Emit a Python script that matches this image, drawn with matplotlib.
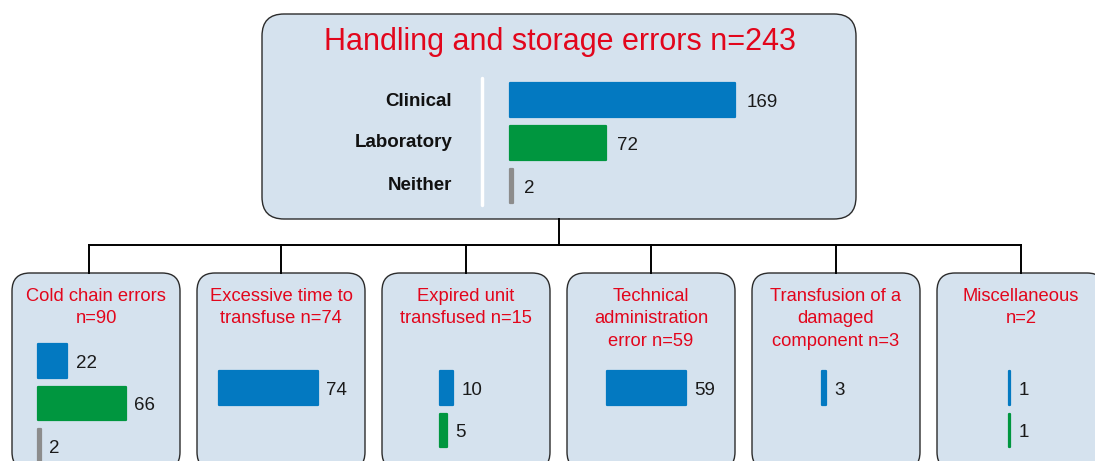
import matplotlib.pyplot as plt
from matplotlib.patches import FancyBboxPatch

plt.rcParams['font.family'] = ['Liberation Sans', 'DejaVu Sans']

# data
main_title = 'Handling and storage errors n=243'
main_cats = ['Clinical', 'Laboratory', 'Neither']
main_vals = [169, 72, 2]

sub_titles = ['Cold chain errors\nn=90', 'Excessive time to\ntransfuse n=74',
              'Expired unit\ntransfused n=15', 'Technical\nadministration\nerror n=59',
              'Transfusion of a\ndamaged\ncomponent n=3', 'Miscellaneous\nn=2']
sub_vals = [[22, 66, 2], [74], [10, 5], [59], [3], [1, 1]]
sub_kinds = [['Clinical', 'Laboratory', 'Neither'], ['Clinical'], ['Clinical', 'Laboratory'],
             ['Clinical'], ['Clinical'], ['Clinical', 'Laboratory']]

colors = {'Clinical': '#0379C1', 'Laboratory': '#00963F', 'Neither': '#8C8C8C'}
RED = '#E2061C'
FILL = '#D5E2EE'

W, H = 1095, 461
PX_PER_UNIT = 1.333

fig = plt.figure(figsize=(W / 100, H / 100), dpi=100)
ax = fig.add_axes([0, 0, 1, 1])
ax.set_xlim(0, W)
ax.set_ylim(H, 0)
ax.axis('off')


def box(x0, y0, x1, y1, r):
    p = FancyBboxPatch((x0, y0), x1 - x0, y1 - y0,
                       boxstyle='round,pad=0,rounding_size=%d' % r,
                       facecolor=FILL, edgecolor='#2b2b2b', linewidth=1.0)
    ax.add_patch(p)


def bar_panel(x_left, y_first, spacing, vals, kinds, width_px=260, label_off=8):
    n = len(vals)
    left = x_left / W
    top = y_first - spacing / 2
    bottom = top + n * spacing
    bax = fig.add_axes([left, 1 - bottom / H, width_px / W, n * spacing / H])
    bax.set_xlim(0, width_px / PX_PER_UNIT)
    bax.set_ylim(n - 0.5, -0.5)
    bax.axis('off')
    bax.patch.set_alpha(0)
    ys = list(range(n))
    cols = [colors[k] for k in kinds]
    bax.barh(ys, vals, height=0.78, color=cols, edgecolor=cols, linewidth=1.6,
             joinstyle='round', clip_on=False)
    for y, v in zip(ys, vals):
        bax.annotate(str(v), (v, y), xytext=(label_off, -1.5), textcoords='offset points',
                     ha='left', va='center', fontsize=13.5, color='#1a1a1a')
    return bax


# top box
box(262, 14, 856, 219, 22)
ax.text(560, 42, main_title, ha='center', va='center', fontsize=22, color=RED)
ax.plot([482, 482], [78, 205], color='white', lw=2.5, solid_capstyle='round')
top_y = [101, 142, 185]
for c, y in zip(main_cats, top_y):
    ax.text(452, y, c, ha='right', va='center', fontsize=13.5, fontweight='bold', color='#111111')
bar_panel(510, 100, 43, main_vals, main_cats, width_px=300, label_off=8)

# connectors
ax.plot([559, 559], [219, 245], color='black', lw=1.4)
box_lefts = [12, 197, 382, 567, 752, 937]
box_w = 168
centers = [bl + box_w / 2 for bl in box_lefts]
centers[0] = 89
ax.plot([centers[0], centers[-1]], [245, 245], color='black', lw=1.4)
for cx in centers:
    ax.plot([cx, cx], [245, 273], color='black', lw=1.4)

# child boxes
bar_starts = [38, 219, 440, 607, 822, 1009]
bar_first_y = [361, 388, 388, 388, 388, 388]
for i, bl in enumerate(box_lefts):
    box(bl, 273, bl + box_w, 470, 18)
    lines = sub_titles[i].split('\n')
    for j, ln in enumerate(lines):
        ax.text(bl + box_w / 2, 296 + j * 22.5, ln, ha='center', va='center',
                fontsize=13.2, color=RED)
    bar_panel(bar_starts[i], bar_first_y[i], 42.5, sub_vals[i], sub_kinds[i],
              width_px=150, label_off=6)

fig.savefig('out.png', dpi=100)
